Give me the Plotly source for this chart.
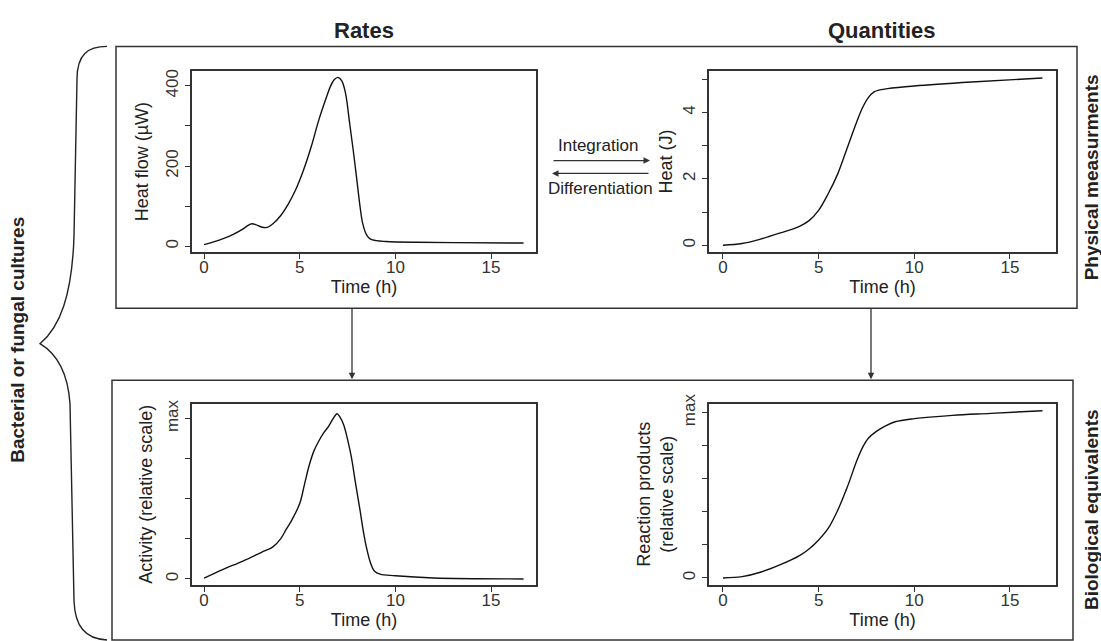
import plotly.graph_objects as go

# ---------------- data ----------------
t_flow = [0, 0.5, 1.0, 1.5, 2.0, 2.3, 2.5, 2.7, 3.0, 3.3, 3.6, 4.0, 4.4, 4.8, 5.2,
          5.6, 6.0, 6.4, 6.6, 6.8, 7.0, 7.2, 7.4, 7.6, 7.8, 8.0, 8.15, 8.3, 8.5,
          8.7, 9.0, 9.5, 11, 13, 16.7]
heat_flow = [4, 11, 19, 29, 42, 52, 56, 54, 48, 47, 56, 76, 105, 142, 190,
             248, 315, 372, 398, 415, 421, 412, 380, 310, 238, 160, 100, 55, 28,
             18, 14, 12, 10, 9, 8]

t_heat = [0, 1, 2, 3, 4, 4.5, 5.0, 5.5, 6.0, 6.5, 7.0, 7.3, 7.6, 7.9, 8.2, 8.6,
          10, 13, 16.7]
heat = [0, 0.05, 0.19, 0.37, 0.57, 0.74, 1.05, 1.55, 2.15, 2.94, 3.73, 4.15,
        4.45, 4.62, 4.68, 4.72, 4.8, 4.92, 5.04]

t_act = [0, 1, 2, 3, 3.6, 4.0, 4.3, 4.6, 5.0, 5.25, 5.5, 5.75, 6.0, 6.25, 6.5,
         6.75, 6.95, 7.1, 7.3, 7.5, 7.7, 7.9, 8.15, 8.35, 8.5, 8.7, 8.9, 9.2,
         10, 12, 16.7]
activity = [0.005, 0.06, 0.11, 0.166, 0.20, 0.25, 0.31, 0.37, 0.47, 0.59, 0.71,
            0.80, 0.86, 0.91, 0.95, 1.0, 1.03, 1.01, 0.96, 0.87, 0.76, 0.61,
            0.43, 0.28, 0.19, 0.10, 0.05, 0.03, 0.02, 0.006, 0.0]

t_prod = [0, 1, 2, 3, 4, 4.5, 5, 5.5, 6, 6.5, 7, 7.3, 7.6, 8, 8.5, 9, 10, 12,
          14, 16.7]
products = [0, 0.008, 0.036, 0.08, 0.135, 0.175, 0.23, 0.30, 0.41, 0.55, 0.71,
            0.79, 0.845, 0.885, 0.92, 0.945, 0.964, 0.984, 0.996, 1.012]

x_ticks = [0, 5, 10, 15]
flow_ticks = [0, 100, 200, 300, 400]
flow_labels = ["0", "", "200", "", "400"]
heat_ticks = [0, 1, 2, 3, 4, 5]
heat_labels = ["0", "", "2", "", "4", ""]
act_ticks = [0, 0.25, 0.5, 0.75, 1.0]
act_labels = ["0", "", "", "", "max"]
prod_ticks = [0, 0.2, 0.4, 0.6, 0.8, 1.0]
prod_labels = ["0", "", "", "", "", "max"]

# ---------------- layout helpers ----------------
W, H = 1101, 641
FONT = "Liberation Sans, Arial, Helvetica, sans-serif"
INK = "#222222"
FRAME = "#333333"


def px(x):
    return x / W


def py(y):
    return 1 - y / H


fig = go.Figure()
line = dict(color="#111111", width=1.4)
for xs, ys, xa, ya in [(t_flow, heat_flow, "x", "y"), (t_heat, heat, "x2", "y2"),
                       (t_act, activity, "x3", "y3"), (t_prod, products, "x4", "y4")]:
    fig.add_trace(go.Scatter(x=xs, y=ys, mode="lines", line=line,
                             line_shape="spline", line_smoothing=1.0,
                             xaxis=xa, yaxis=ya, showlegend=False,
                             hoverinfo="x+y"))


def xax(domain, rng, anchor):
    return dict(domain=domain, range=rng, anchor=anchor, tickvals=x_ticks,
                showline=True, mirror=True, linecolor=FRAME, linewidth=1.5,
                ticks="outside", ticklen=5, tickcolor=FRAME, tickwidth=1,
                ticklabelstandoff=-6,
                showgrid=False, zeroline=False,
                tickfont=dict(size=17, family=FONT, color="#333"),
                title=dict(text="Time (h)", standoff=3,
                           font=dict(size=18, family=FONT, color=INK)))


def yax(domain, rng, anchor, vals, labels, title, standoff):
    return dict(domain=domain, range=rng, anchor=anchor, tickvals=vals,
                ticktext=labels, tickangle=-90,
                showline=True, mirror=True, linecolor=FRAME, linewidth=1.5,
                ticks="outside", ticklen=5, tickcolor=FRAME, tickwidth=1,
                showgrid=False, zeroline=False,
                tickfont=dict(size=17, family=FONT, color="#333"),
                title=dict(text=title, standoff=standoff,
                           font=dict(size=18, family=FONT, color=INK)))


xl = [px(192), px(536)]
xr = [px(709), px(1056)]
yt = [py(246), py(62)]
yb = [py(584), py(400)]

fig.update_layout(
    width=W, height=H,
    margin=dict(l=0, r=0, t=0, b=0),
    paper_bgcolor="white", plot_bgcolor="white",
    font=dict(family=FONT, color=INK),
    xaxis=xax(xl, [-0.63, 17.35], "y"),
    yaxis=yax(yt, [-14.7, 436.8], "x", flow_ticks, flow_labels,
              "Heat flow (µW)", 10),
    xaxis2=xax(xr, [-0.73, 17.41], "y2"),
    yaxis2=yax(yt, [-0.21, 5.25], "x2", heat_ticks, heat_labels,
               "Heat (J)", 3),
    xaxis3=xax(xl, [-0.63, 17.35], "y3"),
    yaxis3=yax(yb, [-0.037, 1.092], "x3", act_ticks, act_labels,
               "Activity (relative scale)", 6),
    xaxis4=xax(xr, [-0.73, 17.41], "y4"),
    yaxis4=yax(yb, [-0.042, 1.054], "x4", prod_ticks, prod_labels,
               "Reaction products<br>(relative scale)", 2),
)

# ---------------- outer panels and brace ----------------
shapes = [
    dict(type="rect", xref="paper", yref="paper", x0=px(116), x1=px(1077),
         y0=py(303), y1=py(37), line=dict(color=FRAME, width=1.5)),
    dict(type="rect", xref="paper", yref="paper", x0=px(112), x1=px(1073),
         y0=py(640), y1=py(376), line=dict(color=FRAME, width=1.5)),
]

brace_pts = [("M", [(107, 37)]),
             ("C", [(88, 37), (77, 45), (77, 70)]),
             ("L", [(74, 230)]),
             ("C", [(72, 290), (60, 322), (40, 339)]),
             ("C", [(58, 350), (68, 370), (70, 400)]),
             ("L", [(74, 600)]),
             ("C", [(75, 626), (85, 639), (107, 640)])]
path = " ".join(cmd + " " + " ".join(f"{px(a):.5f},{py(b):.5f}" for a, b in pts)
                for cmd, pts in brace_pts)
shapes.append(dict(type="path", xref="paper", yref="paper", path=path,
                   line=dict(color="#222", width=1.4)))
fig.update_layout(shapes=shapes)

# ---------------- texts and arrows ----------------
ann = []


def text(x, y, s, size, bold=False, angle=0):
    ann.append(dict(x=px(x), y=py(y), xref="paper", yref="paper",
                    text=f"<b>{s}</b>" if bold else s, showarrow=False,
                    textangle=angle, xanchor="center", yanchor="middle",
                    font=dict(size=size, family=FONT, color=INK)))


def arrow(x_head, y_head, dx, dy):
    ann.append(dict(x=px(x_head), y=py(y_head), xref="paper", yref="paper",
                    ax=dx, ay=dy, axref="pixel", ayref="pixel", text="",
                    showarrow=True, arrowhead=2, arrowsize=1.0,
                    arrowwidth=1.3, arrowcolor="#333"))


text(364, 21, "Rates", 22, bold=True)
text(882, 21, "Quantities", 22, bold=True)
text(1091, 170, "Physical measurments", 19, bold=True, angle=-90)
text(1091, 508, "Biological equivalents", 19, bold=True, angle=-90)
text(18, 335, "Bacterial or fungal cultures", 19, bold=True, angle=-90)
text(598, 138, "Integration", 17)
text(600, 181, "Differentiation", 17)
arrow(650, 153, -98, 0)
arrow(552, 166, 98, 0)
arrow(352, 375, 0, -72)
arrow(871, 375, 0, -72)
fig.update_layout(annotations=ann)

fig.write_html("out.html")
